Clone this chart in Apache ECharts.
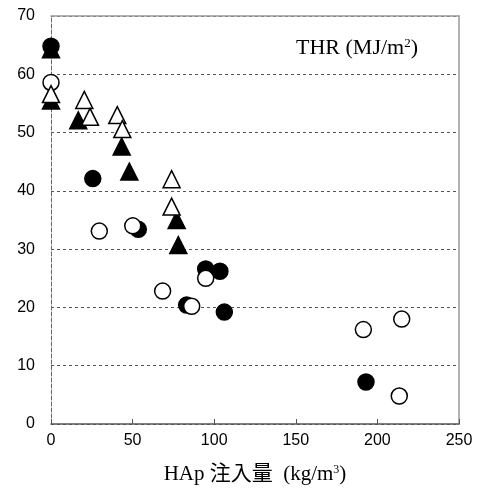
<!DOCTYPE html>
<html><head><meta charset="utf-8">
<script src="https://cdn.jsdelivr.net/npm/echarts@6/dist/echarts.min.js"></script>
<style>html,body{margin:0;padding:0;background:#fff}#c{width:478px;height:491px}</style>
</head><body><div id="c"></div>
<script>
// [x (kg/m3), THR (MJ/m2)]
const filledCircles = [[0,64.8],[25.6,42.1],[53.5,33.4],[94.8,26.6],[103.5,26.2],[83.1,20.4],[106.2,19.2],[193.0,7.2]];
const openCircles = [[0,58.6],[29.6,33.1],[50.1,34.0],[68.4,22.8],[94.8,25.0],[86.2,20.2],[191.4,16.2],[214.9,18.0],[213.4,4.8]];
const filledTriangles = [[0,64.3],[0,55.5],[16.7,52.1],[43.3,47.6],[48.0,43.3],[77.0,35.0],[78.0,30.7]];
const openTriangles = [[0,56.6],[20.4,55.6],[23.9,52.7],[40.6,53.0],[43.7,50.6],[73.9,42.0],[73.9,37.3]];
const xTicks = [0,50,100,150,200,250];
const yTicks = [0,10,20,30,40,50,60,70];

const chart = echarts.init(document.getElementById('c'), null, {renderer:'canvas'});
const sansFont = '"Liberation Sans", Arial, sans-serif';
const serifFont = '"Liberation Serif", "Times New Roman", "Noto Sans CJK JP", serif';
function mk(data, symbol, fill, z) {
  return {type:'scatter', data, symbol, symbolSize: symbol==='circle'?16:17,
    itemStyle:{color:fill, borderColor:'#000', borderWidth:1.5, opacity:1},
    emphasis:{disabled:true}, z};
}
chart.setOption({
  animation:false,
  grid:{left:51, top:16, right:19, bottom:67, containLabel:false, outerBoundsMode:'none'},
  title:{text:'THR (MJ/m{sup|2})', right:55, top:32,
    textStyle:{fontFamily:serifFont, fontSize:22, fontWeight:'normal', color:'#000',
      rich:{sup:{fontFamily:serifFont, fontSize:13, verticalAlign:'top', lineHeight:12, color:'#000'}}}},
  xAxis:[{type:'value', min:0, max:250, interval:50,
    name:'HAp 注入量  (kg/m{sup|3})', nameLocation:'middle', nameGap:40,
    nameTextStyle:{fontFamily:serifFont, fontSize:21, color:'#000',
      rich:{sup:{fontFamily:serifFont, fontSize:12, verticalAlign:'top', lineHeight:12, color:'#000'}}},
    axisLine:{show:true, onZero:false, lineStyle:{color:'#555', width:1.5}},
    axisTick:{show:true, inside:true, length:5, lineStyle:{color:'#555'}},
    axisLabel:{fontFamily:sansFont, fontSize:16, color:'#000', margin:9},
    splitLine:{show:false}},
    {type:'value', position:'top', min:0, max:250, axisLine:{show:true, onZero:false, lineStyle:{color:'#999', width:1.5}},
    axisTick:{show:false}, axisLabel:{show:false}, splitLine:{show:false}}],
  yAxis:[{type:'value', min:0, max:70, interval:10,
    axisLine:{show:true, onZero:false, lineStyle:{color:'#666', type:'dashed', width:1}},
    axisTick:{show:false},
    axisLabel:{fontFamily:sansFont, fontSize:16, color:'#000', margin:16},
    splitLine:{show:true, lineStyle:{color:'#555', type:[3,3], width:1}}},
    {type:'value', position:'right', min:0, max:70, axisLine:{show:true, onZero:false, lineStyle:{color:'#999', width:1.5}},
    axisTick:{show:false}, axisLabel:{show:false}, splitLine:{show:false}}],
  series:[
    mk(filledTriangles,'triangle','#000',2),
    mk(filledCircles,'circle','#000',3),
    mk(openCircles,'circle','#fff',4),
    mk(openTriangles,'triangle','#fff',5)
  ]
});
</script></body></html>
